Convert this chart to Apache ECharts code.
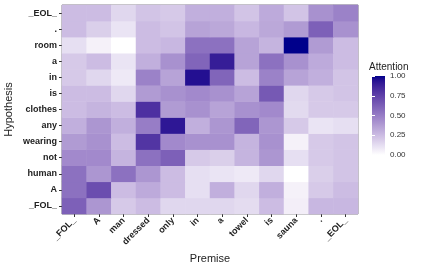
<!DOCTYPE html>
<html><head><meta charset="utf-8">
<script src="https://cdn.jsdelivr.net/npm/echarts@6/dist/echarts.min.js"></script>
<style>html,body{margin:0;padding:0;background:#fff}#c{width:427px;height:270px}</style>
</head><body><div id="c"></div>
<script>
// Categories
const premise = ['_FOL_','A','man','dressed','only','in','a','towel','is','sauna','.','_EOL_'];
const hypothesis = ['_FOL_','A','human','not','wearing','any','clothes','is','in','a','room','.','_EOL_']; // bottom to top
// Attention values per hypothesis word (over premise words)
const h_FOL     = [0.62,0.40,0.20,0.25,0.15,0.15,0.15,0.13,0.25,0.06,0.27,0.27];
const h_A       = [0.55,0.70,0.25,0.32,0.25,0.12,0.30,0.15,0.30,0.05,0.20,0.25];
const h_human   = [0.55,0.40,0.55,0.40,0.25,0.12,0.10,0.08,0.15,0.00,0.18,0.22];
const h_not     = [0.45,0.45,0.28,0.55,0.62,0.20,0.18,0.28,0.40,0.12,0.20,0.22];
const h_wearing = [0.38,0.42,0.25,0.80,0.45,0.42,0.42,0.28,0.42,0.05,0.20,0.22];
const h_any     = [0.30,0.40,0.30,0.50,0.92,0.30,0.40,0.60,0.40,0.20,0.10,0.12];
const h_clothes = [0.25,0.28,0.25,0.82,0.38,0.42,0.35,0.42,0.45,0.14,0.20,0.20];
const h_is      = [0.25,0.25,0.15,0.38,0.42,0.45,0.42,0.35,0.65,0.15,0.20,0.22];
const h_in      = [0.20,0.15,0.08,0.48,0.35,0.95,0.60,0.25,0.48,0.35,0.30,0.22];
const h_a       = [0.20,0.25,0.10,0.30,0.42,0.60,0.90,0.35,0.55,0.42,0.32,0.25];
const h_room    = [0.12,0.05,0.00,0.25,0.27,0.55,0.55,0.35,0.28,1.00,0.38,0.25];
const h_dot     = [0.25,0.18,0.10,0.25,0.22,0.35,0.33,0.27,0.33,0.38,0.62,0.42];
const h_EOL     = [0.25,0.25,0.15,0.22,0.20,0.30,0.30,0.22,0.32,0.22,0.42,0.48];
const rows = [h_FOL,h_A,h_human,h_not,h_wearing,h_any,h_clothes,h_is,h_in,h_a,h_room,h_dot,h_EOL];

// Lab interpolation white -> darkblue (like ggplot gradient)
function srgb2lin(c){c/=255;return c<=0.04045?c/12.92:Math.pow((c+0.055)/1.055,2.4);}
function lin2srgb(c){c=c<=0.0031308?12.92*c:1.055*Math.pow(c,1/2.4)-0.055;return Math.max(0,Math.min(255,Math.round(c*255)));}
const Wn=[0.95047,1,1.08883];
function f(t){return t>0.008856?Math.cbrt(t):(7.787*t+16/116);}
function fi(t){return t>0.206893?t*t*t:(t-16/116)/7.787;}
function toLab(r,g,b){const R=srgb2lin(r),G=srgb2lin(g),B=srgb2lin(b);
 const X=0.4124*R+0.3576*G+0.1805*B,Y=0.2126*R+0.7152*G+0.0722*B,Z=0.0193*R+0.1192*G+0.9505*B;
 const fx=f(X/Wn[0]),fy=f(Y/Wn[1]),fz=f(Z/Wn[2]);return [116*fy-16,500*(fx-fy),200*(fy-fz)];}
function fromLab(L,a,b){const fy=(L+16)/116,fx=fy+a/500,fz=fy-b/200;
 const X=fi(fx)*Wn[0],Y=fi(fy)*Wn[1],Z=fi(fz)*Wn[2];
 const R=3.2406*X-1.5372*Y-0.4986*Z,G=-0.9689*X+1.8758*Y+0.0415*Z,B=0.0557*X-0.2040*Y+1.0570*Z;
 const h=v=>lin2srgb(v).toString(16).padStart(2,'0');return '#'+h(R)+h(G)+h(B);}
const lo=toLab(255,255,255),hi=toLab(0,0,139);
const stops=[];for(let i=0;i<=20;i++){const t=i/20;stops.push(fromLab(lo[0]+(hi[0]-lo[0])*t,lo[1]+(hi[1]-lo[1])*t,lo[2]+(hi[2]-lo[2])*t));}

const data=[];
rows.forEach((r,yi)=>r.forEach((v,xi)=>data.push([xi,yi,v])));

const chart=echarts.init(document.getElementById('c'),null,{renderer:'canvas'});
const FONT='Liberation Sans, Arial, sans-serif';
const CB={left:372,top:76,w:13,h:79};
const tickStyle={show:true,inside:true,length:3,lineStyle:{color:'#fff',width:1}};
chart.setOption({
 animation:false,
 textStyle:{fontFamily:FONT},
 title:{text:'Attention',left:369,top:62,padding:0,textStyle:{fontSize:10,fontWeight:'normal',color:'#222',fontFamily:FONT}},
 grid:[{left:62,top:5,width:296,height:209,show:true,borderColor:'#7f7f7f',borderWidth:1,backgroundColor:'#fff',containLabel:false,outerBoundsMode:'none'},
       {left:CB.left,top:CB.top,width:CB.w,height:CB.h,show:false,containLabel:false,outerBoundsMode:'none'}],
 xAxis:[{type:'category',data:premise,gridIndex:0,name:'Premise',nameLocation:'middle',nameGap:39,
   nameTextStyle:{fontSize:11,color:'#222'},
   axisLine:{show:false},axisTick:{show:true,alignWithLabel:true,length:3,lineStyle:{color:'#333'}},
   axisLabel:{rotate:45,fontSize:9,color:'#222',fontWeight:'bold',margin:5,interval:0},splitLine:{show:false}},
  {type:'value',gridIndex:1,show:false,min:0,max:1}],
 yAxis:[{type:'category',data:hypothesis,gridIndex:0,name:'Hypothesis',nameLocation:'middle',nameGap:48,nameRotate:90,nameMoveOverlap:false,
   nameTextStyle:{fontSize:11,color:'#222'},
   axisLine:{show:false},axisTick:{show:true,alignWithLabel:true,length:3,lineStyle:{color:'#333'}},
   axisLabel:{fontSize:9,color:'#222',fontWeight:'bold',margin:5,interval:0},splitLine:{show:false}},
  {type:'value',gridIndex:1,position:'right',min:0,max:1,interval:0.25,
   axisLine:{show:false},axisTick:tickStyle,splitLine:{show:false},
   axisLabel:{fontSize:8,color:'#333',margin:5,formatter:v=>v.toFixed(2),showMinLabel:true,showMaxLabel:true}},
  {type:'value',gridIndex:1,position:'left',min:0,max:1,interval:0.25,
   axisLine:{show:false},axisTick:tickStyle,splitLine:{show:false},axisLabel:{show:false}}],
 visualMap:{type:'continuous',min:0,max:1,show:false,seriesIndex:0,inRange:{color:stops}},
 graphic:[{type:'rect',z:0,shape:{x:CB.left,y:CB.top,width:CB.w,height:CB.h},
   style:{fill:new echarts.graphic.LinearGradient(0,1,0,0,stops.map((c,i)=>({offset:i/(stops.length-1),color:c})))}}],
 series:[{type:'heatmap',xAxisIndex:0,yAxisIndex:0,data:data,itemStyle:{borderWidth:0},emphasis:{disabled:true}},
   {type:'scatter',xAxisIndex:1,yAxisIndex:1,data:[],silent:true,z:10}]
});
</script></body></html>
